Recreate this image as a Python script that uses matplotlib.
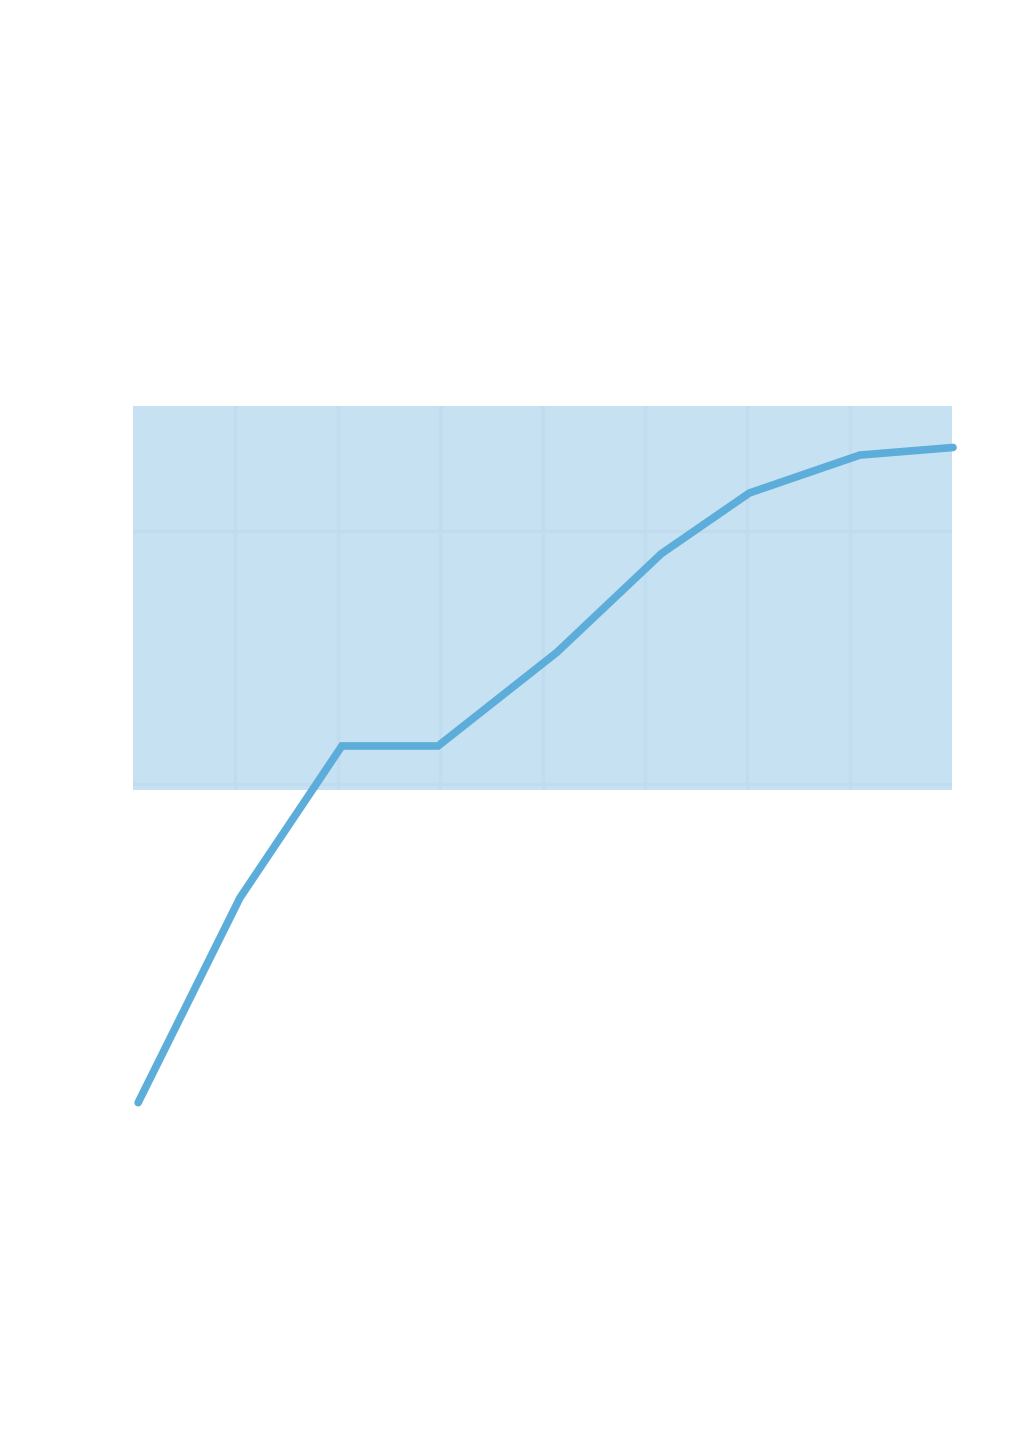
import numpy as np
import matplotlib
matplotlib.use("Agg")
import matplotlib.pyplot as plt

# data (x in grid columns, y scaled so grid ticks are 0 and 100)
x_vals = [0.05, 1.045, 2.04, 2.98, 4.14, 5.16, 6.02, 7.10, 8.01]
y_vals = [-126, -45, 15, 15, 52, 91, 115, 130, 133]
x_ticks = [1, 2, 3, 4, 5, 6, 7]
y_ticks = [0, 100]

fig = plt.figure(figsize=(10.10, 14.33), dpi=100)
W, H = 1010, 1433
ax = fig.add_axes([133 / W, 1 - 790 / H, (952 - 133) / W, (790 - 406) / H])

ax.set_facecolor('#c6e1f2')
ax.set_xlim(0, 8)
ax.set_ylim(-2.4, 149.4)
ax.set_xticks(x_ticks)
ax.set_yticks(y_ticks)
ax.grid(True, color='#c1dcef', linewidth=2.2)
ax.set_axisbelow(True)
ax.tick_params(length=0, labelbottom=False, labelleft=False)
for s in ax.spines.values():
    s.set_visible(False)

ax.plot(x_vals, y_vals, color='#5dadda', linewidth=5.5, solid_capstyle='round',
        solid_joinstyle='miter', clip_on=False, zorder=3)

fig.savefig('out.png', dpi=100)
